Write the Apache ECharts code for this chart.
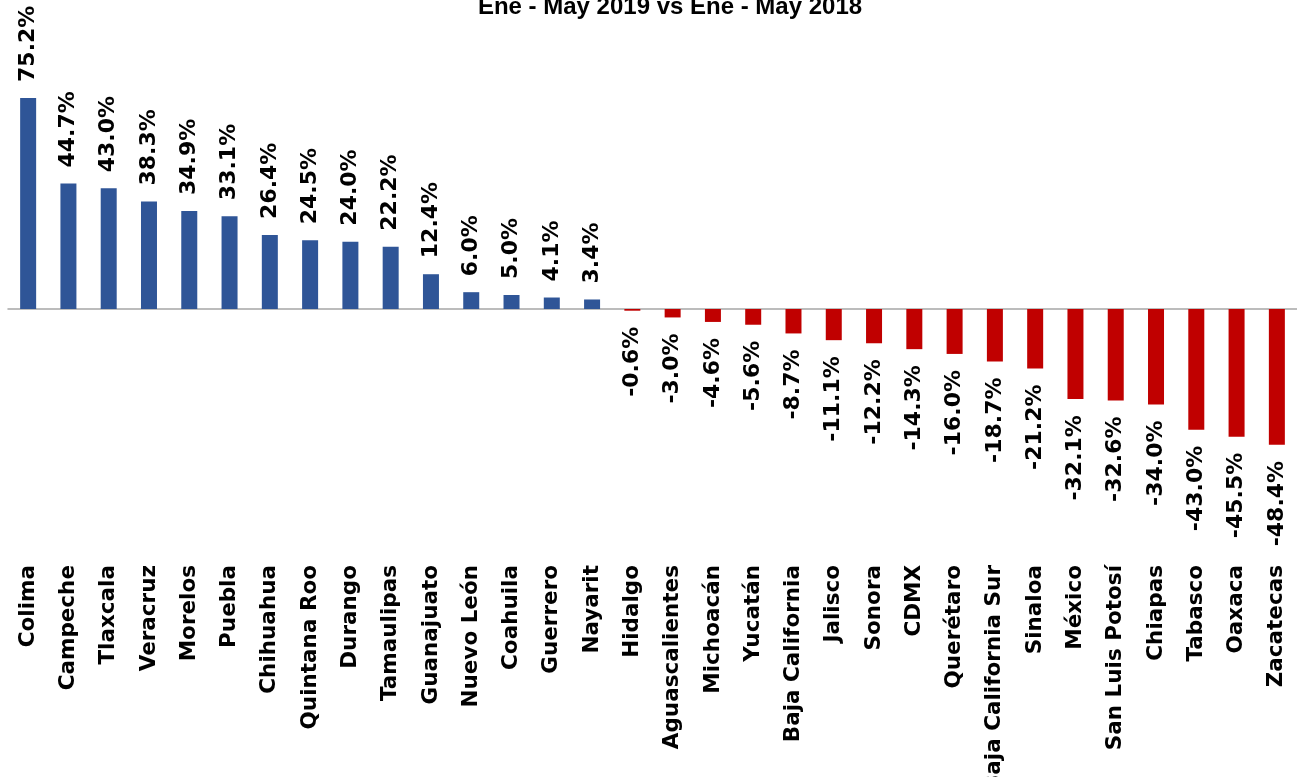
<!DOCTYPE html>
<html>
<head>
<meta charset="utf-8">
<script src="https://cdn.jsdelivr.net/npm/echarts@6/dist/echarts.min.js"></script>
<style>
html, body { margin: 0; padding: 0; background: #fff; }
#chart { width: 1297px; height: 777px; }
</style>
</head>
<body>
<div id="chart"></div>
<script>
var estados = ['Colima', 'Campeche', 'Tlaxcala', 'Veracruz', 'Morelos', 'Puebla', 'Chihuahua',
    'Quintana Roo', 'Durango', 'Tamaulipas', 'Guanajuato', 'Nuevo León', 'Coahuila', 'Guerrero',
    'Nayarit', 'Hidalgo', 'Aguascalientes', 'Michoacán', 'Yucatán', 'Baja California', 'Jalisco',
    'Sonora', 'CDMX', 'Querétaro', 'Baja California Sur', 'Sinaloa', 'México', 'San Luis Potosí',
    'Chiapas', 'Tabasco', 'Oaxaca', 'Zacatecas'];
var variacion = [75.2, 44.7, 43.0, 38.3, 34.9, 33.1, 26.4, 24.5, 24.0, 22.2, 12.4, 6.0, 5.0, 4.1,
    3.4, -0.6, -3.0, -4.6, -5.6, -8.7, -11.1, -12.2, -14.3, -16.0, -18.7, -21.2, -32.1, -32.6,
    -34.0, -43.0, -45.5, -48.4];

var azul = '#2F5597';
var rojo = '#C00000';
var fuente = 'DejaVu Sans';

var barras = variacion.map(function (v) {
    var pos = v >= 0;
    return {
        value: v,
        itemStyle: { color: pos ? azul : rojo },
        label: {
            position: pos ? 'top' : 'bottom',
            align: pos ? 'left' : 'right'
        }
    };
});

var myChart = echarts.init(document.getElementById('chart'));
myChart.setOption({
    animation: false,
    title: {
        text: 'Ene - May 2019 vs Ene - May 2018',
        left: 670,
        top: -5,
        padding: 0,
        textAlign: 'center',
        textStyle: { fontFamily: 'Liberation Sans', fontWeight: 'bold', fontSize: 24, color: '#000' }
    },
    grid: { left: 8, right: 0, top: 84.5, bottom: 221, outerBoundsMode: 'none' },
    xAxis: [{
        type: 'category',
        data: estados,
        position: 'bottom',
        axisLine: { show: false, onZero: false },
        axisTick: { show: false },
        axisLabel: {
            rotate: 90,
            interval: 0,
            margin: 9,
            color: '#000',
            fontFamily: fuente,
            fontWeight: 'bold',
            fontSize: 21.5
        }
    }, {
        type: 'category',
        data: estados,
        position: 'top',
        axisLine: { show: true, onZero: true, lineStyle: { color: '#A6A6A6', width: 1.5 } },
        axisTick: { show: false },
        axisLabel: { show: false }
    }],
    yAxis: {
        type: 'value',
        min: -88,
        max: 80,
        show: false,
        splitLine: { show: false }
    },
    series: [{
        type: 'bar',
        xAxisIndex: 0,
        barWidth: 16,
        data: barras,
        label: {
            show: true,
            rotate: 90,
            distance: 16,
            verticalAlign: 'middle',
            color: '#000',
            fontFamily: fuente,
            fontWeight: 'bold',
            fontSize: 22,
            formatter: function (p) { return p.value.toFixed(1) + '%'; }
        }
    }]
});
</script>
</body>
</html>
